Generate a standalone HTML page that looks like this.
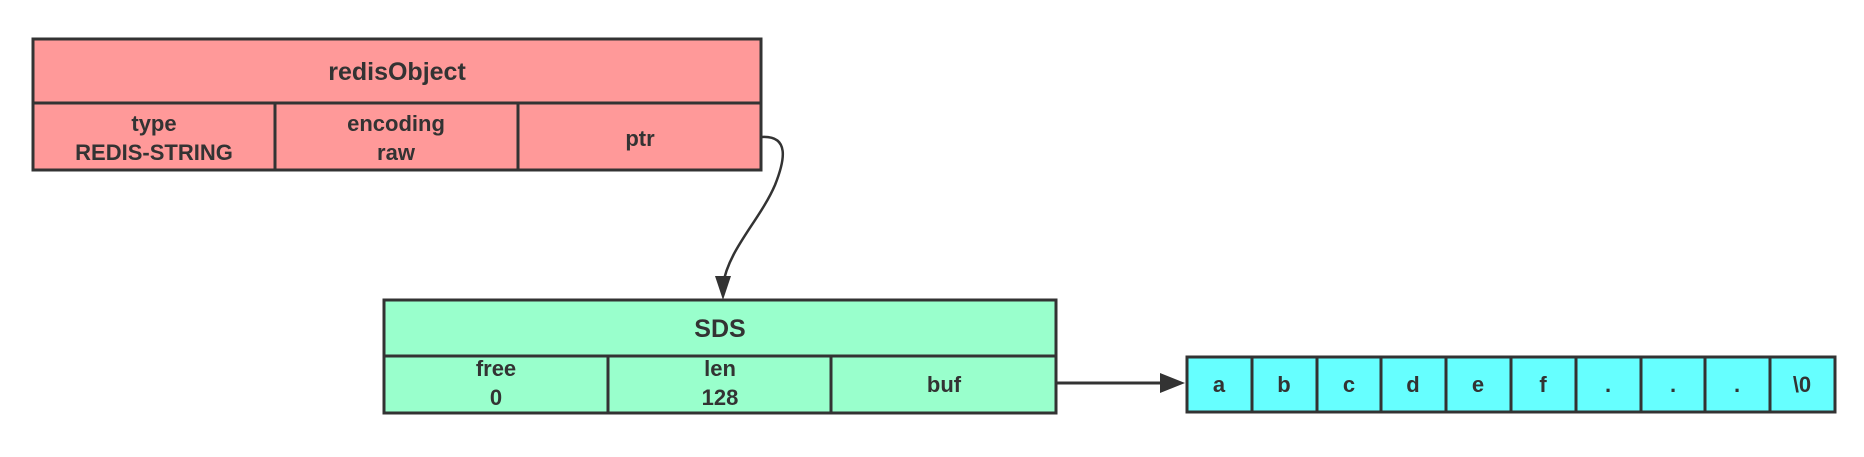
<!DOCTYPE html>
<html><head><meta charset="utf-8"><style>
body{margin:0;background:#fff;width:1864px;height:452px;overflow:hidden}
</style></head><body>
<svg width="1864" height="452" xmlns="http://www.w3.org/2000/svg" font-family="Liberation Sans, sans-serif" font-weight="bold" fill="#333">
<g stroke="#333" stroke-width="3">
<rect x="33" y="39" width="728" height="131" fill="#ff9999"/>
<line x1="33" y1="103" x2="761" y2="103"/>
<line x1="275" y1="103" x2="275" y2="170"/>
<line x1="518" y1="103" x2="518" y2="170"/>
<rect x="384" y="300" width="672" height="113" fill="#99ffcc"/>
<line x1="384" y1="356" x2="1056" y2="356"/>
<line x1="608" y1="356" x2="608" y2="413"/>
<line x1="831" y1="356" x2="831" y2="413"/>
<rect x="1187" y="357" width="648" height="55" fill="#66ffff"/>
</g>
<g stroke="#333" stroke-width="3">
<line x1="1252" y1="357" x2="1252" y2="412"/><line x1="1317" y1="357" x2="1317" y2="412"/>
<line x1="1381" y1="357" x2="1381" y2="412"/><line x1="1446" y1="357" x2="1446" y2="412"/>
<line x1="1511" y1="357" x2="1511" y2="412"/><line x1="1576" y1="357" x2="1576" y2="412"/>
<line x1="1641" y1="357" x2="1641" y2="412"/><line x1="1705" y1="357" x2="1705" y2="412"/>
<line x1="1770" y1="357" x2="1770" y2="412"/>
</g>
<path d="M761 137 C 790 135, 785 160, 775 185 C 760 220, 728 250, 723 285" fill="none" stroke="#333" stroke-width="2.5"/>
<polygon points="723,300 715,276 731,276" fill="#333"/>
<line x1="1056" y1="383" x2="1165" y2="383" stroke="#333" stroke-width="3"/>
<polygon points="1185,383 1160,373 1160,393" fill="#333"/>
<g text-anchor="middle" font-size="25"><text x="397" y="80">redisObject</text><text x="720" y="337">SDS</text></g>
<g text-anchor="middle" font-size="22">
<text x="154" y="131">type</text><text x="154" y="160">REDIS-STRING</text>
<text x="396" y="131">encoding</text><text x="396" y="160">raw</text>
<text x="640" y="146">ptr</text>
<text x="496" y="376">free</text><text x="496" y="405">0</text>
<text x="720" y="376">len</text><text x="720" y="405">128</text>
<text x="944" y="392">buf</text>
<text x="1219" y="392">a</text><text x="1284" y="392">b</text><text x="1349" y="392">c</text>
<text x="1413" y="392">d</text><text x="1478" y="392">e</text><text x="1543" y="392">f</text>
<text x="1608" y="392">.</text><text x="1673" y="392">.</text><text x="1737" y="392">.</text>
<text x="1802" y="392">\0</text>
</g>
</svg>
</body></html>
